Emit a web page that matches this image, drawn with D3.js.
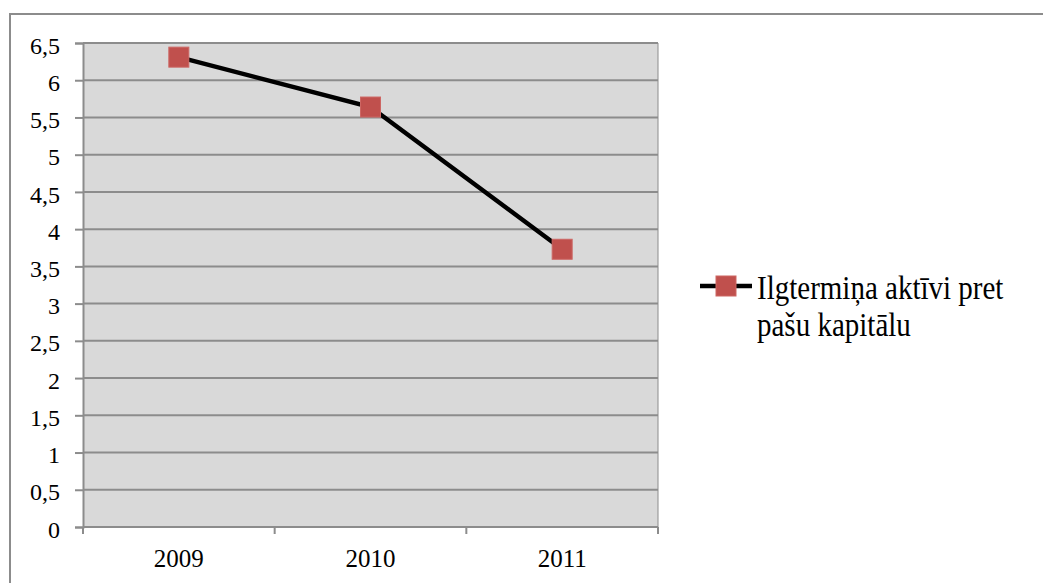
<!DOCTYPE html>
<html>
<head>
<meta charset="utf-8">
<script src="https://cdn.jsdelivr.net/npm/d3@7"></script>
<style>
  body { margin: 0; background: #fff; }
  svg { display: block; }
  svg text { font-family: "Liberation Serif", "Times New Roman", serif; fill: #000; }
</style>
</head>
<body>
<svg width="1043" height="583"></svg>
<script>
// data
var years = ["2009", "2010", "2011"];
var values = [6.31, 5.64, 3.73];
var yTicks = [0, 0.5, 1, 1.5, 2, 2.5, 3, 3.5, 4, 4.5, 5, 5.5, 6, 6.5];
var seriesName = ["Ilgtermiņa aktīvi pret", "pašu kapitālu"];

var svg = d3.select("svg");

// outer chart frame
svg.append("rect")
    .attr("x", 10).attr("y", 14)
    .attr("width", 1100).attr("height", 700)
    .attr("fill", "none")
    .attr("stroke", "#8c8c8c")
    .attr("stroke-width", 2);

var margin = { left: 83, top: 43, right: 658, bottom: 527 };

var x = d3.scaleBand()
    .domain(years)
    .range([margin.left, margin.right]);

var y = d3.scaleLinear()
    .domain([0, 6.5])
    .range([margin.bottom, margin.top]);

// plot background
svg.append("rect")
    .attr("x", margin.left).attr("y", margin.top)
    .attr("width", margin.right - margin.left)
    .attr("height", margin.bottom - margin.top)
    .attr("fill", "#d9d9d9");

// gridlines
svg.append("g")
    .selectAll("line")
    .data(yTicks.filter(function (d) { return d > 0; }))
    .enter().append("line")
    .attr("x1", margin.left).attr("x2", margin.right)
    .attr("y1", function (d) { return y(d); })
    .attr("y2", function (d) { return y(d); })
    .attr("stroke", "#8c8c8c")
    .attr("stroke-width", 2);

// right edge of plot area
svg.append("line")
    .attr("x1", margin.right).attr("x2", margin.right)
    .attr("y1", margin.top).attr("y2", margin.bottom)
    .attr("stroke", "#8c8c8c").attr("stroke-width", 1);

// y axis
var yAxis = svg.append("g")
    .attr("transform", "translate(" + margin.left + ",0)")
    .call(d3.axisLeft(y).tickValues(yTicks).tickSize(8).tickPadding(15)
        .tickFormat(function (d) { return String(d).replace(".", ","); }));
yAxis.attr("font-family", null).attr("font-size", null);
yAxis.select(".domain").attr("stroke", "#8c8c8c").attr("stroke-width", 2);
yAxis.selectAll(".tick line").attr("stroke", "#8c8c8c").attr("stroke-width", 2);
yAxis.selectAll("text").style("font-size", "24px").attr("dy", "0.42em");

// x axis with category boundary ticks
var xAxisG = svg.append("g");
xAxisG.append("line")
    .attr("x1", margin.left).attr("x2", margin.right)
    .attr("y1", margin.bottom).attr("y2", margin.bottom)
    .attr("stroke", "#8c8c8c").attr("stroke-width", 2);
var bounds = years.map(function (d) { return x(d); }).concat([x(years[years.length - 1]) + x.bandwidth()]);
xAxisG.selectAll(".bt")
    .data(bounds)
    .enter().append("line")
    .attr("x1", function (d) { return d; }).attr("x2", function (d) { return d; })
    .attr("y1", margin.bottom).attr("y2", margin.bottom + 7)
    .attr("stroke", "#8c8c8c").attr("stroke-width", 2);
xAxisG.selectAll("text")
    .data(years)
    .enter().append("text")
    .attr("x", function (d) { return x(d) + x.bandwidth() / 2; })
    .attr("y", 567)
    .attr("text-anchor", "middle")
    .style("font-size", "25px")
    .text(function (d) { return d; });

// line
var line = d3.line()
    .x(function (d, i) { return x(years[i]) + x.bandwidth() / 2; })
    .y(function (d) { return y(d); });

svg.append("path")
    .datum(values)
    .attr("fill", "none")
    .attr("stroke", "#000")
    .attr("stroke-width", 4.5)
    .attr("d", line);

// markers
svg.selectAll(".marker")
    .data(values)
    .enter().append("rect")
    .attr("class", "marker")
    .attr("x", function (d, i) { return x(years[i]) + x.bandwidth() / 2 - 10; })
    .attr("y", function (d) { return y(d) - 10; })
    .attr("width", 20).attr("height", 20)
    .attr("fill", "#c0504d")
    .attr("stroke", "#cd6663")
    .attr("stroke-width", 1);

// legend
var legend = svg.append("g").attr("transform", "translate(700,286)");
legend.append("line")
    .attr("x1", 0).attr("x2", 52)
    .attr("y1", 0).attr("y2", 0)
    .attr("stroke", "#000").attr("stroke-width", 4.5);
legend.append("rect")
    .attr("x", 16).attr("y", -10)
    .attr("width", 20).attr("height", 20)
    .attr("fill", "#c0504d")
    .attr("stroke", "#cd6663").attr("stroke-width", 1);
legend.selectAll("text")
    .data(seriesName)
    .enter().append("text")
    .attr("transform", function (d, i) { return "translate(57," + (13 + i * 37) + ") scale(1,1.15)"; })
    .style("font-size", "29px")
    .text(function (d) { return d; });
</script>
</body>
</html>
